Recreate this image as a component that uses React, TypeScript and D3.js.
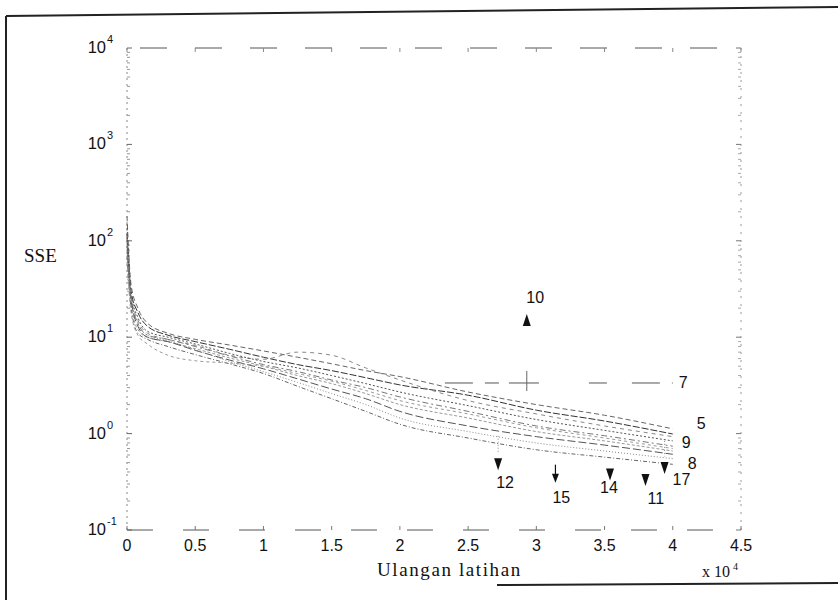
import React from "react";
import * as d3 from "d3";

// iterations (x 10^4)
const iterX = [0, 0.03, 0.08, 0.15, 0.3, 0.5, 0.75, 1, 1.25, 1.5, 1.75, 2, 2.5, 3, 3.5, 4];

const seriesA = [180, 35, 20, 14, 11, 9.5, 8.3, 7.2, 6.2, 5.3, 4.5, 3.9, 2.7, 2.0, 1.55, 1.12];
const seriesB = [120, 30, 18, 13, 10.5, 9, 7.5, 6.2, 5.2, 4.5, 3.8, 3.2, 2.5, 1.75, 1.35, 0.99];
const seriesC = [100, 26, 15, 11, 9.5, 8.2, 6.5, 5.9, 7.0, 6.5, 4.8, 3.6, 2.2, 1.6, 1.2, 0.93];
const seriesD = [150, 28, 16, 11.5, 10, 8.5, 6.8, 5.6, 4.8, 4.0, 3.3, 2.7, 1.95, 1.4, 1.08, 0.84];
const seriesE = [90, 24, 14, 10.5, 9.5, 8, 6.4, 5.2, 4.4, 3.6, 3.0, 2.4, 1.7, 1.2, 0.95, 0.74];
const seriesF = [80, 22, 12, 10, 9, 7.6, 6.1, 5.0, 4.0, 3.3, 2.6, 2.0, 1.45, 1.05, 0.84, 0.66];
const seriesG = [110, 25, 13, 10, 9, 7.3, 5.8, 4.7, 3.7, 2.9, 2.3, 1.7, 1.2, 0.93, 0.76, 0.61];
const seriesH = [130, 27, 14, 10.5, 9.2, 7.4, 5.6, 4.4, 3.4, 2.6, 2.0, 1.45, 1.05, 0.8, 0.66, 0.55];
const seriesI = [70, 20, 11, 9.5, 8, 6.6, 5.3, 4.2, 3.1, 2.3, 1.7, 1.25, 0.9, 0.68, 0.57, 0.48];
const seriesJ = [60, 18, 10.5, 8.5, 6.5, 5.7, 5.4, 5.0, 4.2, 3.5, 2.8, 2.2, 1.6, 1.15, 0.9, 0.7];

// network 7: flat line
const line7X = [2.33, 4.0];
const line7Y = [3.35, 3.35];

// single networks that stopped early
const markerLabels = ["10", "12", "15", "14", "11", "17"];
const markerX = [2.93, 2.72, 3.14, 3.54, 3.8, 3.94];
const markerY = [15.1, 0.48, 0.31, 0.377, 0.33, 0.44];
const markerKind = ["up", "down", "arrow", "down", "down", "down"];

const xTickValues = [0, 0.5, 1, 1.5, 2, 2.5, 3, 3.5, 4, 4.5];
const yExponents = [-1, 0, 1, 2, 3, 4];

const allSeries = [seriesA, seriesB, seriesC, seriesD, seriesE, seriesF, seriesG, seriesH, seriesI, seriesJ];
const seriesStyles = [
  { stroke: "#666", dash: "5,3" },
  { stroke: "#333", dash: "7,2" },
  { stroke: "#888", dash: "4,4" },
  { stroke: "#555", dash: "2,2" },
  { stroke: "#777", dash: "6,3,2,3" },
  { stroke: "#999", dash: "3,2" },
  { stroke: "#555", dash: "8,3" },
  { stroke: "#888", dash: "1,2" },
  { stroke: "#666", dash: "4,2,1,2" },
  { stroke: "#999", dash: "3,3" },
];

// labels at ends of curves: [text, series index (-1 = line 7), dx, dy]
const endLabels: [string, number, number, number][] = [
  ["7", -1, 6, 5],
  ["5", 0, 24, 0],
  ["9", 3, 9, 7],
  ["8", 8, 15, 5],
];
const markerLabelOffsets = [
  [-0.5, -17],
  [-2, 24],
  [-3, 20],
  [-10, 19],
  [2, 24],
  [8, 17],
];

const sans = "'Liberation Sans', Arial, Helvetica, sans-serif";
const serif = "'Liberation Serif', 'Times New Roman', serif";

export default function App() {
  const x = d3.scaleLinear().domain([0, 4.5e4]).range([127, 741]);
  const y = d3.scaleLog().domain([0.1, 1e4]).range([530, 48]);

  const line = d3
    .line<[number, number]>()
    .x((d) => x(d[0] * 1e4))
    .y((d) => y(d[1]))
    .curve(d3.curveMonotoneX);

  const minorTicks: number[] = [];
  for (let e = -1; e < 4; e++) {
    for (let m = 2; m < 10; m++) minorTicks.push(m * Math.pow(10, e));
  }

  const tri = (cx: number, cy: number, up: boolean) => {
    const w = 4,
      h = 6;
    return up
      ? `M${cx},${cy - h} L${cx + w},${cy + h} L${cx - w},${cy + h} Z`
      : `M${cx},${cy + h} L${cx + w},${cy - h} L${cx - w},${cy - h} Z`;
  };

  return (
    <svg
      width={838}
      height={600}
      style={{ position: "absolute", left: 0, top: 0, background: "#fff" }}
    >
      {/* outer frame (scan border) */}
      <line x1={6} y1={16} x2={6} y2={600} stroke="#222" strokeWidth={2} />
      <line x1={6} y1={16} x2={838} y2={7} stroke="#222" strokeWidth={2} />
      <line x1={497} y1={585} x2={838} y2={583} stroke="#222" strokeWidth={2} />

      {/* axes box */}
      <line x1={x(0)} y1={y(1e4)} x2={x(4.5e4)} y2={y(1e4)} stroke="#555" strokeWidth={1} strokeDasharray="27,28" strokeDashoffset={-13} />
      <line x1={x(0)} y1={y(0.1)} x2={x(4.5e4)} y2={y(0.1)} stroke="#555" strokeWidth={1} strokeDasharray="26,30" />
      <line x1={x(0)} y1={y(1e4)} x2={x(0)} y2={y(0.1)} stroke="#888" strokeWidth={1} strokeDasharray="2,4" />
      <line x1={x(4.5e4)} y1={y(1e4)} x2={x(4.5e4)} y2={y(0.1)} stroke="#999" strokeWidth={1} strokeDasharray="2,6" />

      {/* y ticks */}
      {yExponents.map((e) => (
        <g key={"ye" + e}>
          <line x1={x(0)} x2={x(0) + 5} y1={y(Math.pow(10, e))} y2={y(Math.pow(10, e))} stroke="#666" />
          <line x1={x(4.5e4)} x2={x(4.5e4) - 5} y1={y(Math.pow(10, e))} y2={y(Math.pow(10, e))} stroke="#777" />
          <text x={106} y={y(Math.pow(10, e)) + 5} textAnchor="end" fontFamily={sans} fontSize={16.5} fill="#111">
            10
          </text>
          <text x={107} y={y(Math.pow(10, e)) - 5} fontFamily={sans} fontSize={11} fill="#111">
            {e}
          </text>
        </g>
      ))}
      {minorTicks.map((v, i) => (
        <g key={"mt" + i}>
          <line x1={x(0)} x2={x(0) + 3} y1={y(v)} y2={y(v)} stroke="#999" />
          <line x1={x(4.5e4)} x2={x(4.5e4) - 3} y1={y(v)} y2={y(v)} stroke="#aaa" />
        </g>
      ))}

      {/* x ticks */}
      {xTickValues.map((t) => (
        <g key={"xt" + t}>
          <line x1={x(t * 1e4)} x2={x(t * 1e4)} y1={y(0.1)} y2={y(0.1) - 4} stroke="#777" />
          <line x1={x(t * 1e4)} x2={x(t * 1e4)} y1={y(1e4)} y2={y(1e4) + 4} stroke="#888" />
          <text x={x(t * 1e4)} y={551} textAnchor="middle" fontFamily={sans} fontSize={16} fill="#111">
            {String(t)}
          </text>
        </g>
      ))}

      {/* curves */}
      {allSeries.map((s, i) => (
        <path
          key={"s" + i}
          d={line(iterX.map((xv, j) => [xv, s[j]] as [number, number])) || ""}
          fill="none"
          stroke={seriesStyles[i].stroke}
          strokeWidth={1}
          strokeDasharray={seriesStyles[i].dash}
        />
      ))}
      <path
        d={line(line7X.map((xv, j) => [xv, line7Y[j]] as [number, number])) || ""}
        fill="none"
        stroke="#555"
        strokeWidth={1}
        strokeDasharray="28,12,14,10,30,50,18,25"
      />
      {/* cross at network 10 position on line 7 */}
      <line x1={x(markerX[0] * 1e4)} x2={x(markerX[0] * 1e4)} y1={y(line7Y[0]) - 12} y2={y(line7Y[0]) + 8} stroke="#666" strokeWidth={1} />
      {/* dotted drops for 12 and 17 */}
      <line x1={x(markerX[1] * 1e4)} x2={x(markerX[1] * 1e4)} y1={y(0.95)} y2={y(0.62)} stroke="#888" strokeDasharray="1,2" />
      <line x1={x(markerX[5] * 1e4)} x2={x(markerX[5] * 1e4)} y1={y(0.84)} y2={y(0.58)} stroke="#888" strokeDasharray="1,2" />

      {/* markers */}
      {markerLabels.map((lab, i) => {
        const cx = x(markerX[i] * 1e4);
        const cy = y(markerY[i]);
        const off = markerLabelOffsets[i];
        return (
          <g key={"m" + i}>
            {markerKind[i] === "arrow" ? (
              <g>
                <line x1={cx} x2={cx} y1={cy - 18} y2={cy - 6} stroke="#111" strokeWidth={1.2} />
                <path d={`M${cx},${cy} L${cx + 3.5},${cy - 9} L${cx - 3.5},${cy - 9} Z`} fill="#111" />
              </g>
            ) : (
              <path d={tri(cx, cy, markerKind[i] === "up")} fill="#111" />
            )}
            <text x={cx + off[0]} y={cy + off[1]} fontFamily={sans} fontSize={16} fill="#111">
              {lab}
            </text>
          </g>
        );
      })}

      {/* end labels */}
      {endLabels.map(([lab, si, dx, dy]) => {
        const lastX = si < 0 ? line7X[line7X.length - 1] : iterX[iterX.length - 1];
        const lastY = si < 0 ? line7Y[line7Y.length - 1] : allSeries[si][allSeries[si].length - 1];
        return (
          <text key={"el" + lab} x={x(lastX * 1e4) + dx} y={y(lastY) + dy} fontFamily={sans} fontSize={16} fill="#111">
            {lab}
          </text>
        );
      })}

      {/* axis titles */}
      <text x={24} y={262} fontFamily={serif} fontSize={19} fill="#111">
        SSE
      </text>
      <text x={377} y={576} fontFamily={serif} fontSize={19} letterSpacing={1.6} fill="#111">
        Ulangan latihan
      </text>
      <text x={702} y={577} fontFamily={serif} fontSize={16} fill="#111">
        x 10
      </text>
      <text x={733} y={570} fontFamily={serif} fontSize={10} fill="#111">
        4
      </text>
    </svg>
  );
}
